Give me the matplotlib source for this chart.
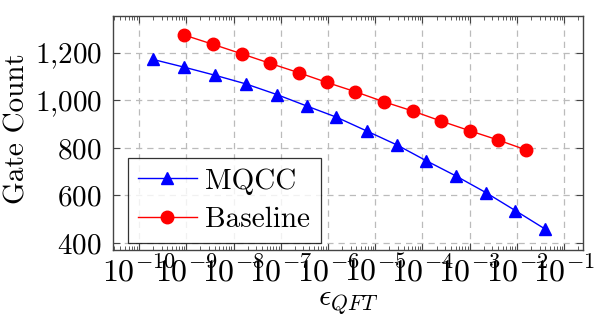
import math
import matplotlib
matplotlib.use("Agg")
import matplotlib.pyplot as plt
from matplotlib.ticker import LogLocator, FuncFormatter, FixedLocator, NullFormatter

plt.rcParams['font.family'] = ['cmr10', 'DejaVu Serif']
plt.rcParams['mathtext.fontset'] = 'cm'
plt.rcParams['axes.formatter.use_mathtext'] = True

# data
mqcc_eps = [1.95e-10, 9.1e-10, 4.1e-9, 1.82e-8, 8.3e-8, 3.55e-7, 1.51e-6,
            6.6e-6, 2.9e-5, 1.2e-4, 5.1e-4, 2.2e-3, 9.3e-3, 4.0e-2]
mqcc_gates = [1172, 1139, 1105, 1069, 1024, 976, 929,
              871, 812, 746, 682, 612, 536, 458]
base_eps = [9.1e-10, 3.7e-9, 1.51e-8, 6.0e-8, 2.4e-7, 9.5e-7, 3.8e-6,
            1.51e-5, 6.2e-5, 2.45e-4, 1.0e-3, 4.0e-3, 1.58e-2]
base_gates = [1274, 1235, 1195, 1155, 1116, 1075, 1036,
              994, 955, 913, 872, 833, 791]

x_ticks = [1e-10, 1e-9, 1e-8, 1e-7, 1e-6, 1e-5, 1e-4, 1e-3, 1e-2, 1e-1]
y_ticks = [400, 600, 800, 1000, 1200]

fig = plt.figure(figsize=(5.95, 3.28), dpi=100)
ax = fig.add_axes([0.19, 0.238, 0.79, 0.713])

ax.plot(mqcc_eps, mqcc_gates, color='blue', marker='^', markersize=8,
        linewidth=1, label='MQCC')
ax.plot(base_eps, base_gates, color='red', marker='o', markersize=9,
        linewidth=1, label='Baseline')

ax.set_xscale('log')
ax.set_xlim(10 ** -10.55, 10 ** -0.6)
ax.set_ylim(371, 1354)

ax.xaxis.set_major_locator(FixedLocator(x_ticks))
ax.xaxis.set_major_formatter(FuncFormatter(
    lambda v, p: r'$10^{%d}$' % round(math.log10(v))))
ax.xaxis.set_minor_locator(LogLocator(base=10, subs=range(2, 10), numticks=30))
ax.xaxis.set_minor_formatter(NullFormatter())
ax.yaxis.set_major_locator(FixedLocator(y_ticks))
ax.yaxis.set_major_formatter(FuncFormatter(
    lambda v, p: r'$' + '{:,.0f}'.format(v).replace(',', '{,}') + '$'))

ax.tick_params(which='both', direction='in', top=True, right=True,
               color='#444444')
ax.tick_params(which='major', length=5, width=0.8)
ax.tick_params(which='minor', length=3, width=0.6)
ax.tick_params(axis='x', labelsize=23, pad=4)
ax.tick_params(axis='y', labelsize=21, pad=8)

ax.grid(True, which='major', linestyle=(0, (5, 4)), color='#bbbbbb', linewidth=0.9)
for s in ax.spines.values():
    s.set_color('#444444')
    s.set_linewidth(1.0)

ax.set_xlabel(r'$\epsilon_{QFT}$', fontsize=22, labelpad=1)
ax.set_ylabel('Gate Count', fontsize=21, labelpad=4)
ax.yaxis.set_label_coords(-0.175, 0.52)

leg = ax.legend(loc='lower left', fontsize=21, frameon=True, fancybox=False,
                edgecolor='black', handlelength=2.0, borderpad=0.35,
                labelspacing=0.4, handletextpad=0.3, borderaxespad=0,
                bbox_to_anchor=(0.032, 0.03))
leg.get_frame().set_linewidth(0.9)

fig.savefig('out.png', dpi=100)
